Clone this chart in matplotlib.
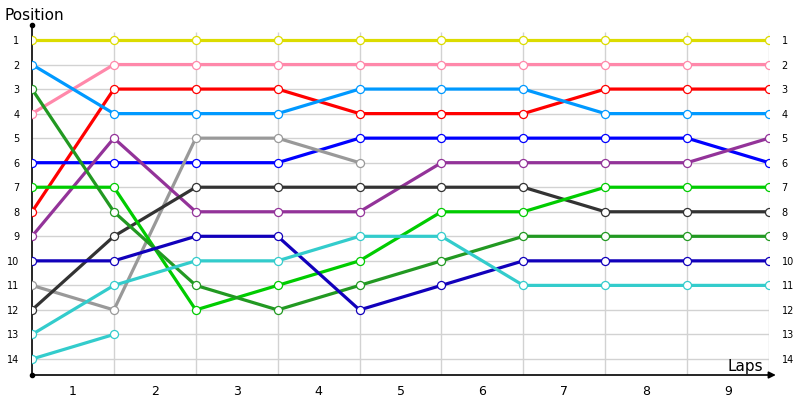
import matplotlib.pyplot as plt

# 每一圈结束时的名次（第0个点是起跑位置）
yellow = [1, 1, 1, 1, 1, 1, 1, 1, 1, 1]
pink = [4, 2, 2, 2, 2, 2, 2, 2, 2, 2]
red = [8, 3, 3, 3, 4, 4, 4, 3, 3, 3]
sky = [2, 4, 4, 4, 3, 3, 3, 4, 4, 4]
blue = [6, 6, 6, 6, 5, 5, 5, 5, 5, 6]
gray = [11, 12, 5, 5, 6]
purple = [9, 5, 8, 8, 8, 6, 6, 6, 6, 5]
dark = [12, 9, 7, 7, 7, 7, 7, 8, 8, 8]
lime = [7, 7, 12, 11, 10, 8, 8, 7, 7, 7]
green = [3, 8, 11, 12, 11, 10, 9, 9, 9, 9]
navy = [10, 10, 9, 9, 12, 11, 10, 10, 10, 10]
cyan = [13, 11, 10, 10, 9, 9, 11, 11, 11, 11]
cyan2 = [14, 13]

series = [yellow, pink, red, sky, blue, gray, purple, dark, lime, green, navy, cyan, cyan2]
colors = ["#dcdc00", "#ff88aa", "#ff0000", "#0099ff", "#0000ff", "#999999", "#933399",
          "#333333", "#00cc00", "#229922", "#1100bb", "#33cccc", "#33cccc"]

laps = ["1", "2", "3", "4", "5", "6", "7", "8", "9"]
positions = list(range(1, 15))

fig = plt.figure(figsize=(8, 4), dpi=100)
ax = fig.add_axes([32 / 800, 25 / 400, 737 / 800, 350 / 400])
ax.set_xlim(0, 9)
ax.set_ylim(14.652, 0.389)

# 网格
ax.hlines(positions, 0, 9, color="#d2d2d2", lw=1, zorder=0)
ax.vlines(range(1, 10), 0.674, 14.652, color="#d2d2d2", lw=1, zorder=0)

# 先画线再画点
for s, c in zip(series, colors):
    ax.plot(range(len(s)), s, color=c, lw=2.3, zorder=2)
for s, c in zip(series, colors):
    ax.plot(range(len(s)), s, ls="none", marker="o", ms=5.8, mfc="white", mec=c,
            mew=0.9, zorder=3)

# 坐标轴
for side in ["top", "right", "bottom"]:
    ax.spines[side].set_visible(False)
ax.spines["left"].set_linewidth(1.2)
ax.annotate("", xy=(1.013, 0), xytext=(0, 0), xycoords="axes fraction",
            arrowprops=dict(arrowstyle="-|>", color="black", lw=1.2, mutation_scale=10))
ax.plot([0, 0], [0, 1], "o", color="black", ms=3, transform=ax.transAxes, clip_on=False)

# 刻度
ax.set_yticks(positions)
ax.set_yticklabels([str(p) for p in positions], fontsize=7)
ax.tick_params(axis="y", length=0, pad=9, labelright=True)
for tk in ax.yaxis.get_major_ticks():
    tk.label2.set_fontsize(7)
ax.set_xticks([i + 0.5 for i in range(9)])
ax.set_xticklabels(laps, fontsize=9)
ax.tick_params(axis="x", length=0, pad=7)

fig.text(5 / 800, 1 - 16 / 400, "Position", fontsize=11, va="center", ha="left")
fig.text(763 / 800, 1 - 366 / 400, "Laps", fontsize=11, va="center", ha="right")

plt.savefig("out.png")
